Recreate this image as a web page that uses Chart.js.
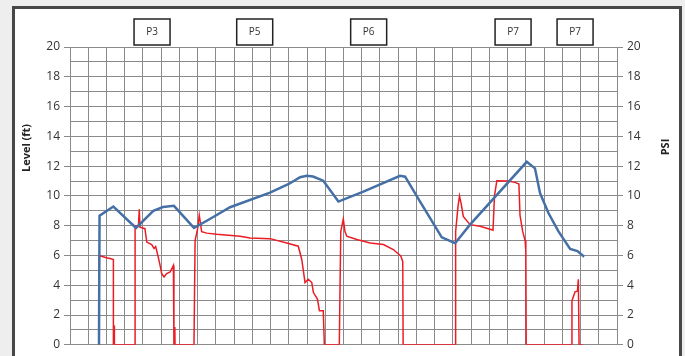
<!DOCTYPE html>
<html>
<head>
<meta charset="utf-8">
<script src="https://cdn.jsdelivr.net/npm/chart.js@4/dist/chart.umd.min.js"></script>
<style>
  html, body { margin: 0; padding: 0; background: #eeeeee; overflow: hidden; }
  #frame { position: absolute; left: 12px; top: 6px; width: 664px; height: 400px; border: 3px solid #474747; background: #fff; }
  #wrap { position: absolute; left: 0; top: 0; width: 685px; height: 356px; }
</style>
</head>
<body>
<div id="frame"></div>
<div id="wrap"><canvas id="chart"></canvas></div>
<script>
// Level (ft), left axis
const levelX = [1.59, 1.62, 2.38, 3.62, 4.57, 5.1, 5.70, 6.80, 7.6, 8.78, 10.97, 12.0, 12.62, 12.98, 13.33, 13.89, 14.72, 16.09, 18.10, 18.38, 19.20, 20.39, 21.12, 21.94, 25.05, 25.50, 25.78, 26.24, 26.79, 27.43, 27.83, 28.20];
const levelFt = [0, 8.67, 9.29, 7.85, 9.0, 9.25, 9.33, 7.85, 8.4, 9.24, 10.22, 10.8, 11.25, 11.35, 11.3, 11.02, 9.62, 10.29, 11.35, 11.29, 9.62, 7.22, 6.82, 8.07, 12.29, 11.85, 10.18, 8.85, 7.62, 6.44, 6.29, 5.91];

// Pressure (PSI), right axis
const psiX = [1.59, 1.60, 2.0, 2.2, 2.38, 2.38, 2.42, 2.43, 2.44, 3.57, 3.57, 3.75, 3.80, 3.84, 4.11, 4.21, 4.48, 4.61, 4.7, 4.84, 4.94, 5.03, 5.16, 5.30, 5.49, 5.67, 5.70, 5.74, 5.75, 5.76, 6.80, 6.86, 7.0, 7.09, 7.22, 7.5, 8.05, 9.33, 9.87, 10.97, 11.89, 12.52, 12.71, 12.80, 12.89, 13.07, 13.26, 13.35, 13.57, 13.68, 13.89, 13.95, 14.77, 14.85, 14.99, 15.08, 15.18, 15.73, 16.46, 17.19, 17.73, 18.14, 18.25, 18.27, 21.12, 21.15, 21.28, 21.36, 21.45, 21.57, 21.94, 22.49, 23.13, 23.2, 23.28, 23.41, 24.0, 24.41, 24.62, 24.68, 24.83, 24.96, 25.0, 25.02, 27.52, 27.53, 27.70, 27.83, 27.88, 27.92, 28.12];
const psiVal = [0, 6.0, 5.85, 5.8, 5.73, 0, 0, 1.3, 0, 0, 8.0, 7.95, 9.1, 7.9, 7.8, 6.9, 6.73, 6.47, 6.6, 5.89, 5.33, 4.78, 4.56, 4.78, 4.89, 5.33, 0, 0, 1.2, 0, 0, 7.0, 7.8, 8.7, 7.6, 7.5, 7.42, 7.29, 7.18, 7.13, 6.84, 6.62, 5.73, 4.96, 4.18, 4.4, 4.18, 3.51, 3.07, 2.29, 2.29, 0, 0, 7.6, 8.44, 7.6, 7.29, 7.07, 6.84, 6.73, 6.4, 5.96, 5.6, 0, 0, 7.6, 9.3, 10.0, 9.5, 8.62, 8.07, 7.96, 7.73, 7.7, 10.0, 11.02, 11.0, 10.91, 10.8, 8.7, 7.6, 7.0, 6.3, 0, 0, 2.96, 3.56, 3.6, 4.4, 0, 0];

// tick labels and phase boxes
const yTicks = [0, 2, 4, 6, 8, 10, 12, 14, 16, 18, 20];
const phaseLabels = ["P3", "P5", "P6", "P7", "P7"];
const phaseX = [4.5, 10.13, 16.38, 24.3, 27.7];

const gridColor = "#8a8a8a";
const tickFont = { family: "Open Sans", size: 12 };

const overlay = {
  id: "overlay",
  afterDraw(chart) {
    const ctx = chart.ctx;
    const x = chart.scales.x;
    ctx.save();
    // phase boxes
    ctx.strokeStyle = "#222";
    ctx.lineWidth = 1.5;
    ctx.font = "10px 'Open Sans'";
    ctx.textAlign = "center";
    ctx.textBaseline = "middle";
    phaseLabels.forEach((t, i) => {
      const cx = x.getPixelForValue(phaseX[i]);
      ctx.fillStyle = "#fff";
      ctx.fillRect(cx - 18, 19, 36, 26);
      ctx.strokeRect(cx - 18, 19, 36, 26);
      ctx.fillStyle = "#333";
      ctx.fillText(t, cx, 32);
    });
    // axis titles
    ctx.font = "bold 11px 'Open Sans'";
    ctx.fillStyle = "#222";
    ctx.translate(27, 148);
    ctx.rotate(-Math.PI / 2);
    ctx.fillText("Level (ft)", 0, 0);
    ctx.restore();
    ctx.save();
    ctx.font = "bold 11px 'Open Sans'";
    ctx.fillStyle = "#222";
    ctx.textAlign = "center";
    ctx.textBaseline = "middle";
    ctx.translate(666, 147);
    ctx.rotate(-Math.PI / 2);
    ctx.fillText("PSI", 0, 0);
    ctx.restore();
  }
};

const tickMark = (c) => (yTicks.includes(c.tick.value) ? gridColor : "rgba(0,0,0,0)");
const tickLabel = (v) => (yTicks.includes(v) ? v : "");

new Chart(document.getElementById("chart"), {
  type: "line",
  data: {
    datasets: [
      {
        label: "Level (ft)",
        data: levelX.map((v, i) => ({ x: v, y: levelFt[i] })),
        borderColor: "#4470a6",
        borderWidth: 2.5,
        pointRadius: 0,
        yAxisID: "y",
      },
      {
        label: "PSI",
        data: psiX.map((v, i) => ({ x: v, y: psiVal[i] })),
        borderColor: "#ec1c24",
        borderWidth: 1.5,
        pointRadius: 0,
        yAxisID: "y1",
      },
    ],
  },
  options: {
    responsive: true,
    maintainAspectRatio: false,
    animation: false,
    layout: { padding: { left: 0, right: 0, top: 47, bottom: 7 } },
    plugins: { legend: { display: false }, tooltip: { enabled: false } },
    scales: {
      x: {
        type: "linear",
        min: 0,
        max: 30,
        ticks: { display: false, stepSize: 1 },
        grid: { color: gridColor, drawTicks: false },
        border: { display: false },
        afterFit: (s) => { s.height = 0; },
      },
      y: {
        position: "left",
        min: 0,
        max: 20,
        ticks: { stepSize: 1, autoSkip: false, callback: tickLabel, color: "#333", font: tickFont, padding: 4 },
        grid: { color: gridColor, tickColor: tickMark, tickLength: 6 },
        border: { color: gridColor },
        afterFit: (s) => { s.width = 70; },
      },
      y1: {
        position: "right",
        min: 0,
        max: 20,
        ticks: { stepSize: 1, autoSkip: false, callback: tickLabel, color: "#333", font: tickFont, padding: 4 },
        grid: { drawOnChartArea: false, tickColor: tickMark, tickLength: 6 },
        border: { color: gridColor },
        afterFit: (s) => { s.width = 68; },
      },
    },
  },
  plugins: [overlay],
});
</script>
</body>
</html>
